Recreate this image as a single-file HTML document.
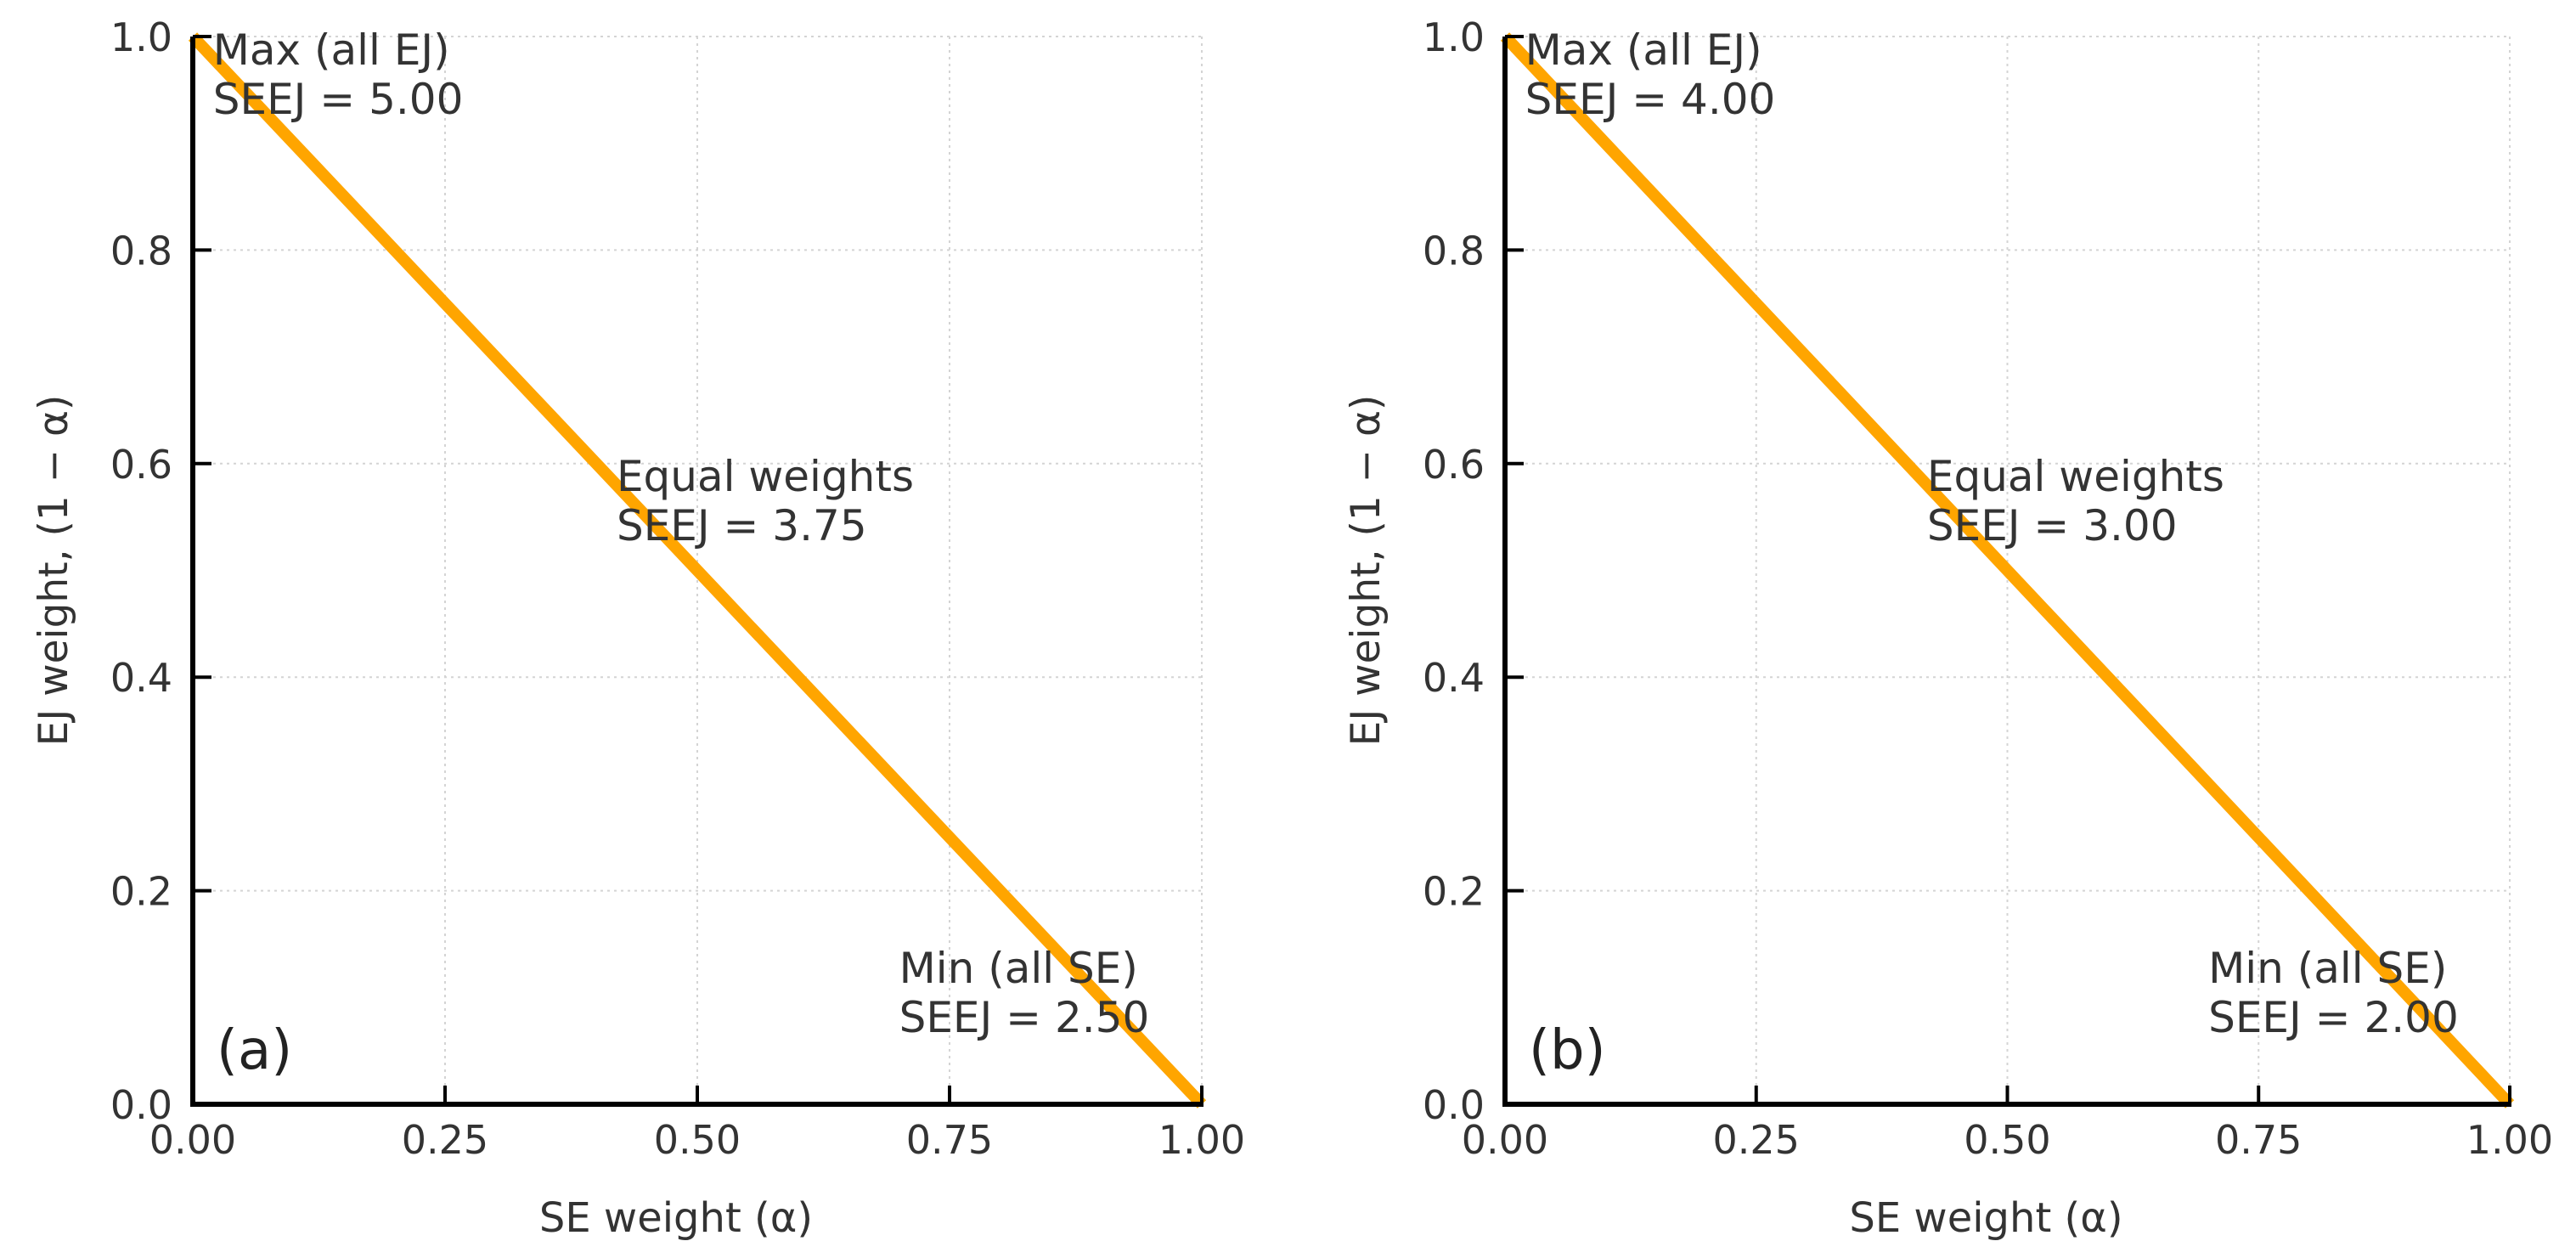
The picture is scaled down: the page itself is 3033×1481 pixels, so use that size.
<!DOCTYPE html>
<html><head><meta charset="utf-8"><style>
html,body{margin:0;padding:0;background:#fff;}
svg{display:block;font-family:"DejaVu Sans","Liberation Sans",sans-serif;}
</style></head><body>
<svg id="chart" width="3033" height="1481" viewBox="0 0 3033 1481" xmlns="http://www.w3.org/2000/svg"></svg>
<script>
const panelLabels = ["(a)", "(b)"];
const maxValues = ["5.00", "4.00"];
const equalValues = ["3.75", "3.00"];
const minValues = ["2.50", "2.00"];
const lineX = [0, 1];
const lineY = [1, 0];
const xTicks = [0, 0.25, 0.5, 0.75, 1.0];
const xTickLabels = ["0.00", "0.25", "0.50", "0.75", "1.00"];
const yTicks = [0, 0.2, 0.4, 0.6, 0.8, 1.0];
const yTickLabels = ["0.0", "0.2", "0.4", "0.6", "0.8", "1.0"];

const NS = "http://www.w3.org/2000/svg";
const svg = document.getElementById("chart");
function mk(tag, attrs, parent, text) {
  const e = document.createElementNS(NS, tag);
  for (const k in attrs) e.setAttribute(k, attrs[k]);
  if (text !== undefined) e.textContent = text;
  parent.appendChild(e);
  return e;
}
const panels = [{x0: 227, x1: 1415}, {x0: 1772, x1: 2955}];
const yTop = 43, yBot = 1300;

panels.forEach((p, i) => {
  const g = mk("g", {}, svg);
  
  
  const sx = v => p.x0 + v * (p.x1 - p.x0);
  const sy = v => yBot - v * (yBot - yTop);
  xTicks.forEach(t => {
    if (t === 0) return;
    const l = mk("line", {x1: sx(t), x2: sx(t), y1: yTop, y2: yBot, stroke: "#d4d4d4", "stroke-width": 2, "stroke-dasharray": "3 5"}, g);
    
    
  });
  yTicks.forEach(t => {
    if (t === 0) return;
    const l = mk("line", {x1: p.x0, x2: p.x1, y1: sy(t), y2: sy(t), stroke: "#d4d4d4", "stroke-width": 2, "stroke-dasharray": "3 5"}, g);
    
    
  });
  let d = lineX.map((x, k) => (k ? "L" : "M") + sx(x) + " " + sy(lineY[k])).join(" ");
  const ln = mk("path", {d: d, stroke: "#FFA500", "stroke-width": 14, fill: "none"}, g);
  
  
  const sp1 = mk("line", {x1: p.x0, x2: p.x0, y1: yTop, y2: yBot + 3, stroke: "#000", "stroke-width": 6}, g);
  
  
  const sp2 = mk("line", {x1: p.x0 - 3, x2: p.x1 + 2, y1: yBot, y2: yBot, stroke: "#000", "stroke-width": 6}, g);
  
  
  xTicks.forEach((t, k) => {
    const tk = mk("line", {x1: sx(t), x2: sx(t), y1: yBot, y2: yBot - 22, stroke: "#000", "stroke-width": 4}, g);
    
    
    const tl = mk("text", {x: sx(t), y: 1358, "font-size": 46, fill: "#333", "text-anchor": "middle"}, g, xTickLabels[k]);
    
    
  });
  yTicks.forEach((t, k) => {
    const tk = mk("line", {x1: p.x0, x2: p.x0 + 22, y1: sy(t), y2: sy(t), stroke: "#000", "stroke-width": 4}, g);
    
    
    const tl = mk("text", {x: p.x0 - 24, y: sy(t) + 17, "font-size": 46, fill: "#333", "text-anchor": "end"}, g, yTickLabels[k]);
    
    
  });
  const xt = mk("text", {x: (p.x0 + p.x1) / 2 - 25, y: 1450, "font-size": 48, fill: "#333", "text-anchor": "middle"}, g, "SE weight (α)");
  
  
  const yx = p.x0 - 148, yc = (yTop + yBot) / 2;
  const yt = mk("text", {x: yx, y: yc, "font-size": 47, fill: "#333", "text-anchor": "middle", transform: `rotate(-90 ${yx} ${yc})`}, g, "EJ weight, (1 − α)");
  
  
  const notes = [
    [0.02, 76, "Max (all EJ)", "SEEJ = " + maxValues[i], 'max-annotation'],
    [0.42, 578, "Equal weights", "SEEJ = " + equalValues[i], 'equal-annotation'],
    [0.70, 1157, "Min (all SE)", "SEEJ = " + minValues[i], 'min-annotation'],
  ];
  notes.forEach(n => {
    const t = mk("text", {x: sx(n[0]), y: n[1], "font-size": 50, fill: "#333"}, g);
    
    
    mk("tspan", {x: sx(n[0]), y: n[1]}, t, n[2]);
    mk("tspan", {x: sx(n[0]), y: n[1] + 58}, t, n[3]);
  });
  const pl = mk("text", {x: p.x0 + 28, y: 1258, "font-size": 64, fill: "#222"}, g, panelLabels[i]);
  
  
});
</script>
</body></html>
